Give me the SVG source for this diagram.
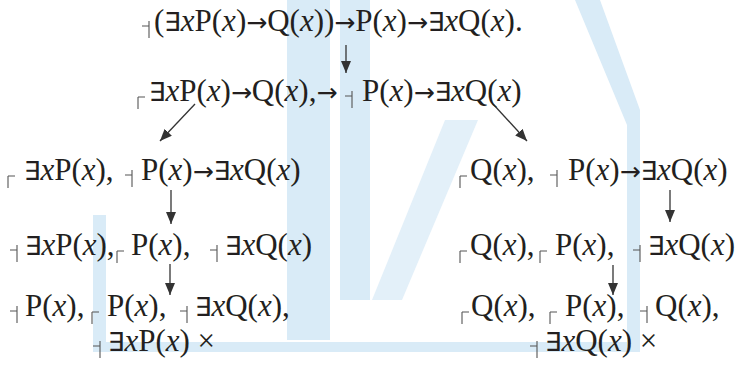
<svg xmlns="http://www.w3.org/2000/svg" width="749" height="371" viewBox="0 0 749 371">
<style>
.t{font-family:"Liberation Serif","Times New Roman",serif;font-size:31px;fill:#231f20}
.i{font-style:italic}
.e{font-family:"DejaVu Sans",sans-serif;font-size:26px}
.a{font-family:"DejaVu Sans",sans-serif;font-size:25px}
.sg{stroke:#555;stroke-width:1.1;fill:none}
.c{stroke:#333;stroke-width:1.3;fill:none}
</style>
<defs>
<marker id="ah" viewBox="0 0 12 10" markerWidth="12" markerHeight="10" refX="12" refY="5" orient="auto" markerUnits="userSpaceOnUse"><path d="M0,0L12,5L0,10z" fill="#333"/></marker>
<path id="T" d="M0,-5H7M7,-10V7"/>
<path id="F" d="M0,-4V8M0,-4H7"/>
</defs>
<g id="watermark" fill="#d9ebf7">
<rect x="287" y="0" width="43" height="340"/>
<rect x="340" y="0" width="30" height="300"/>
<path d="M575,0H600L640,110V352H627V125Z"/>
<path d="M445,120H478L402,300H372Z" fill="#e3f0f9"/>
<rect x="93" y="215" width="13" height="137"/>
<rect x="93" y="342" width="547" height="10"/>
</g>
<g id="connectors">
<line class="c" x1="346" y1="45" x2="346" y2="73" marker-end="url(#ah)"/>
<line class="c" x1="195" y1="104" x2="160" y2="141" marker-end="url(#ah)"/>
<line class="c" x1="493" y1="104" x2="527" y2="141" marker-end="url(#ah)"/>
<line class="c" x1="171" y1="190" x2="171" y2="224" marker-end="url(#ah)"/>
<line class="c" x1="670" y1="190" x2="670" y2="222" marker-end="url(#ah)"/>
<line class="c" x1="170" y1="264" x2="170" y2="295" marker-end="url(#ah)"/>
<line class="c" x1="613" y1="265" x2="613" y2="295" marker-end="url(#ah)"/>
</g>
<g id="n1">
<use href="#T" class="sg" x="142" y="31"/>
<text class="t" x="154" y="31">(<tspan class="e">∃</tspan><tspan class="i">x</tspan>P(<tspan class="i">x</tspan>)<tspan class="a">→</tspan>Q(<tspan class="i">x</tspan>))<tspan class="a">→</tspan>P(<tspan class="i">x</tspan>)<tspan class="a">→</tspan><tspan class="e">∃</tspan><tspan class="i">x</tspan>Q(<tspan class="i">x</tspan>).</text>
</g>
<g id="n2">
<use href="#F" class="sg" x="138" y="101"/>
<text class="t" x="149" y="101"><tspan class="e">∃</tspan><tspan class="i">x</tspan>P(<tspan class="i">x</tspan>)<tspan class="a">→</tspan>Q(<tspan class="i">x</tspan>),<tspan class="a">→</tspan></text>
<use href="#T" class="sg" x="345" y="101"/>
<text class="t" x="362" y="101">P(<tspan class="i">x</tspan>)<tspan class="a">→</tspan><tspan class="e">∃</tspan><tspan class="i">x</tspan>Q(<tspan class="i">x</tspan>)</text>
</g>
<g id="n3">
<use href="#F" class="sg" x="8" y="180"/>
<text class="t" x="24" y="180"><tspan class="e">∃</tspan><tspan class="i">x</tspan>P(<tspan class="i">x</tspan>),</text>
<use href="#T" class="sg" x="125" y="180"/>
<text class="t" x="141" y="180">P(<tspan class="i">x</tspan>)<tspan class="a">→</tspan><tspan class="e">∃</tspan><tspan class="i">x</tspan>Q(<tspan class="i">x</tspan>)</text>
</g>
<g id="n4">
<use href="#F" class="sg" x="460" y="180"/>
<text class="t" x="470" y="180">Q(<tspan class="i">x</tspan>),</text>
<use href="#T" class="sg" x="550" y="180"/>
<text class="t" x="568" y="180">P(<tspan class="i">x</tspan>)<tspan class="a">→</tspan><tspan class="e">∃</tspan><tspan class="i">x</tspan>Q(<tspan class="i">x</tspan>)</text>
</g>
<g id="n5">
<use href="#T" class="sg" x="10" y="255"/>
<text class="t" x="25" y="255"><tspan class="e">∃</tspan><tspan class="i">x</tspan>P(<tspan class="i">x</tspan>),</text>
<use href="#F" class="sg" x="117" y="255"/>
<text class="t" x="131" y="255">P(<tspan class="i">x</tspan>),</text>
<use href="#T" class="sg" x="210" y="255"/>
<text class="t" x="225" y="255"><tspan class="e">∃</tspan><tspan class="i">x</tspan>Q(<tspan class="i">x</tspan>)</text>
</g>
<g id="n6">
<use href="#F" class="sg" x="460" y="255"/>
<text class="t" x="470" y="255">Q(<tspan class="i">x</tspan>),</text>
<use href="#F" class="sg" x="540" y="255"/>
<text class="t" x="555" y="255">P(<tspan class="i">x</tspan>),</text>
<use href="#T" class="sg" x="633" y="255"/>
<text class="t" x="648" y="255"><tspan class="e">∃</tspan><tspan class="i">x</tspan>Q(<tspan class="i">x</tspan>)</text>
</g>
<g id="n7">
<use href="#T" class="sg" x="10" y="316"/>
<text class="t" x="25" y="316">P(<tspan class="i">x</tspan>),</text>
<use href="#F" class="sg" x="92" y="316"/>
<text class="t" x="107" y="316">P(<tspan class="i">x</tspan>),</text>
<use href="#T" class="sg" x="180" y="316"/>
<text class="t" x="195" y="316"><tspan class="e">∃</tspan><tspan class="i">x</tspan>Q(<tspan class="i">x</tspan>),</text>
<use href="#T" class="sg" x="93" y="351"/>
<text class="t" x="108" y="351"><tspan class="e">∃</tspan><tspan class="i">x</tspan>P(<tspan class="i">x</tspan>) ×</text>
</g>
<g id="n8">
<use href="#F" class="sg" x="462" y="316"/>
<text class="t" x="471" y="316">Q(<tspan class="i">x</tspan>),</text>
<use href="#F" class="sg" x="550" y="316"/>
<text class="t" x="565" y="316">P(<tspan class="i">x</tspan>),</text>
<use href="#T" class="sg" x="640" y="316"/>
<text class="t" x="655" y="316">Q(<tspan class="i">x</tspan>),</text>
<use href="#T" class="sg" x="530" y="351"/>
<text class="t" x="545" y="351"><tspan class="e">∃</tspan><tspan class="i">x</tspan>Q(<tspan class="i">x</tspan>) ×</text>
</g>
</svg>
